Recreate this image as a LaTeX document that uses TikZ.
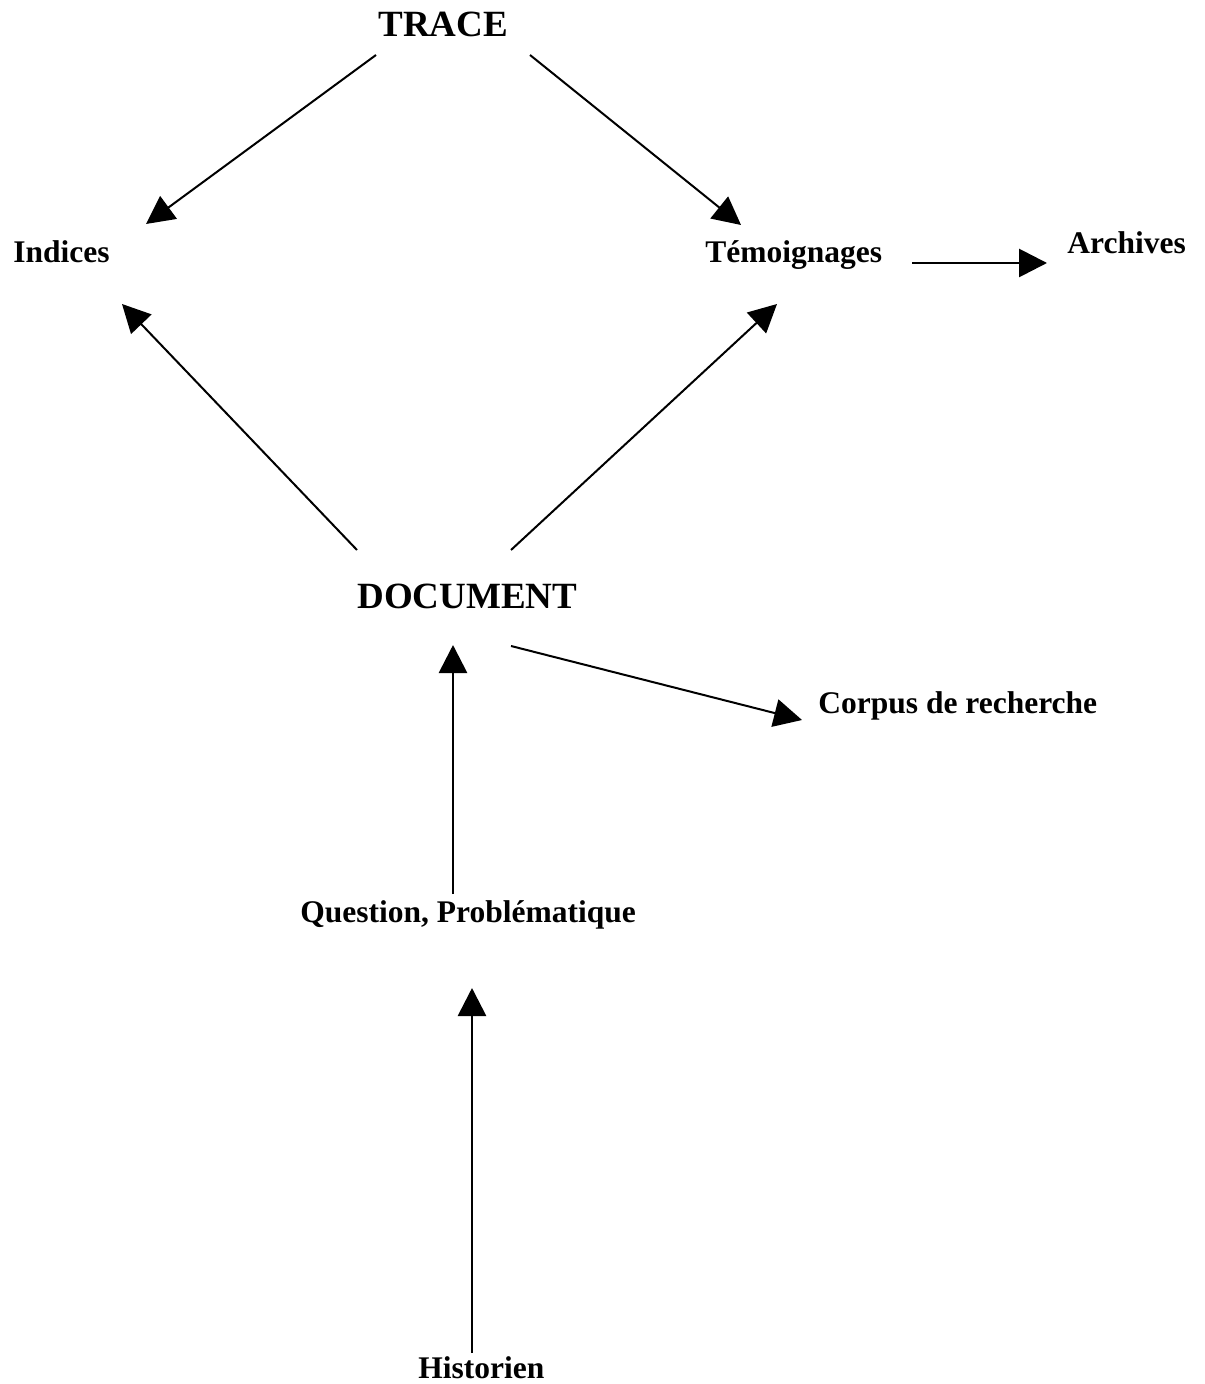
\documentclass[tikz,border=0pt]{standalone}
\usepackage{fontspec}
\setmainfont{Liberation Serif}
\usetikzlibrary{arrows.meta}
\tikzset{
  lbl/.style={anchor=base west, inner sep=0pt, font=\fontsize{15.75pt}{18pt}\selectfont\bfseries},
  big/.style={anchor=base west, inner sep=0pt, font=\fontsize{18.5pt}{22pt}\selectfont\bfseries},
  conn/.style={line width=1pt, -{Triangle[length=14pt,width=14pt]}},
  thickconn/.style={line width=1.4pt, -{Triangle[length=14pt,width=14pt]}}
}
\begin{document}
\begin{tikzpicture}[x=0.5pt,y=-0.5pt]
\useasboundingbox (0,0) rectangle (1204,1384);
% nodes
\node[big] (trace) at (378,37) {TRACE};
\node[lbl] (indices) at (13,263) {Indices};
\node[lbl] (temo) at (705,263) {Témoignages};
\node[lbl] (arch) at (1067,254) {Archives};
\node[big] (doc) at (357,608) {DOCUMENT};
\node[lbl] (corpus) at (818,713) {Corpus de recherche};
\node[lbl] (quest) at (300,922) {Question, Problématique};
\node[lbl] (hist) at (418,1378) {Historien};
% connector end points
\coordinate (traceL) at (376,55);
\coordinate (traceR) at (530,55);
\coordinate (indTop) at (146,224);
\coordinate (temoTop) at (741,225);
\coordinate (indBot) at (122,304);
\coordinate (temoBot) at (777,304);
\coordinate (docL) at (357,550);
\coordinate (docR) at (511,550);
\coordinate (docB) at (511,646);
\coordinate (docQ) at (453,645);
\coordinate (corpL) at (802,720);
\coordinate (questT) at (453,894);
\coordinate (questB) at (472,988);
\coordinate (histT) at (472,1353);
\coordinate (temoR) at (912,263);
\coordinate (archL) at (1047,263);
% connectors
\draw[conn] (traceL) -- (indTop);
\draw[conn] (traceR) -- (temoTop);
\draw[conn] (docL) -- (indBot);
\draw[conn] (docR) -- (temoBot);
\draw[conn] (docB) -- (corpL);
\draw[thickconn] (questT) -- (docQ);
\draw[thickconn] (histT) -- (questB);
\draw[thickconn] (temoR) -- (archL);
\end{tikzpicture}
\end{document}
